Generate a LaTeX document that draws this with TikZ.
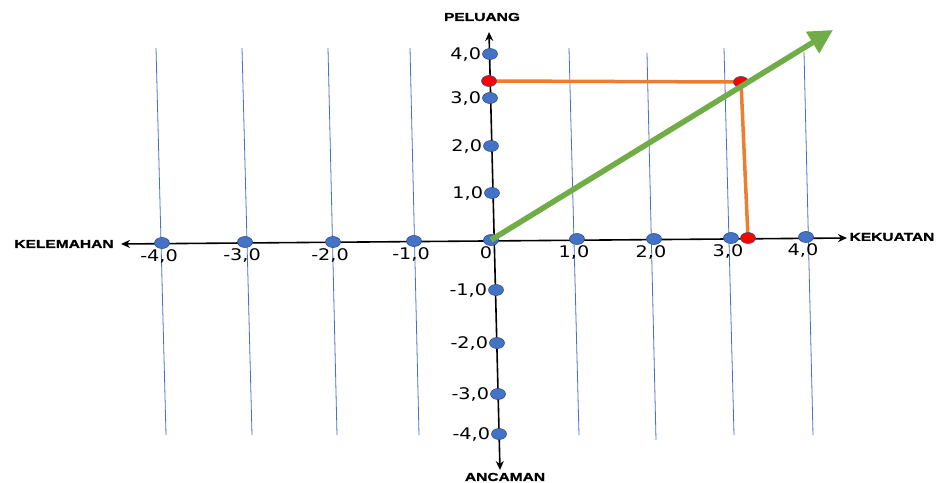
\documentclass[tikz,border=0pt]{standalone}
\usepackage{fontspec}
\usepackage{xcolor}
\usepackage{tikz}
\usetikzlibrary{shapes.geometric,arrows.meta,backgrounds}
\setmainfont{Liberation Sans}
\newfontfamily\tickfont[FakeStretch=1.2]{DejaVu Sans}
\newfontfamily\headfont[FakeStretch=1.35,BoldFeatures={FakeBold=1.2}]{Liberation Sans}
\definecolor{dotblue}{HTML}{4472C4}
\definecolor{dotedge}{HTML}{2F528F}
\definecolor{trace}{HTML}{ED7D31}
\definecolor{trend}{HTML}{70AD47}

\begin{document}
\begin{tikzpicture}[
    x=1pt,y=-1pt,
    dot/.style={ellipse,draw=dotedge,fill=dotblue,line width=0.6pt,minimum width=15pt,minimum height=11pt,inner sep=0pt},
    hit/.style={dot,fill=red},
    ticklab/.style={font=\tickfont\fontsize{16}{16}\selectfont,inner sep=1pt},
    xtick/.style={label={[ticklab,xshift=-3pt]below:#1}},
    ytick/.style={label={[ticklab]left:#1}},
    axislab/.style={font=\headfont\bfseries\fontsize{11.5}{11.5}\selectfont,inner sep=1pt},
    gridline/.style={draw=dotblue,line width=0.8pt},
    axisline/.style={{Stealth[length=9pt,width=8pt]}-{Stealth[length=9pt,width=8pt]},line width=1.6pt},
    orangeline/.style={draw=trace,line width=3.5pt},
    trendline/.style={-{Triangle[length=24pt,width=24pt]},draw=trend,line width=5.5pt}
  ]
    \useasboundingbox (0,0) rectangle (937,482);
    % points on the horizontal axis
    \node[dot,label distance=-1pt,xtick={-4,0}] (xm4) at (162,243) {};
    \node[dot,label distance=-1pt,xtick={-3,0}] (xm3) at (245,242) {};
    \node[dot,label distance=-1pt,xtick={-2,0}] (xm2) at (333,242) {};
    \node[dot,label distance=-1pt,xtick={-1,0}] (xm1) at (414,241) {};
    \node[dot,label distance=-1pt,label={[ticklab,xshift=-5pt]below:0}] (o) at (491,240) {};
    \node[dot,label distance=-1pt,xtick={1,0}] (x1) at (577,239) {};
    \node[dot,label distance=-1pt,xtick={2,0}] (x2) at (654,239) {};
    \node[dot,label distance=-3pt,xtick={3,0}] (x3) at (731,238) {};
    \node[dot,label distance=-5pt,xtick={4,0}] (x4) at (806,237) {};
    % points on the vertical axis
    \node[dot,label distance=-4pt,ytick={4,0}] (y4) at (490,54) {};
    \node[dot,label distance=-3pt,ytick={3,0}] (y3) at (490,98) {};
    \node[dot,label distance=-3pt,ytick={2,0}] (y2) at (491,146) {};
    \node[dot,label distance=-3pt,ytick={1,0}] (y1) at (492,193) {};
    \node[dot,label distance=-3pt,ytick={-1,0}] (ym1) at (496,290) {};
    \node[dot,label distance=-3pt,ytick={-2,0}] (ym2) at (497,343) {};
    \node[dot,label distance=-3pt,ytick={-3,0}] (ym3) at (498,394) {};
    \node[dot,label distance=-3pt,ytick={-4,0}] (ym4) at (499,434) {};
    % position
    \node[hit] (py) at (489,81) {};
    \node[hit] (pc) at (741,82) {};
    \node[hit] (px) at (748,238) {};
    % axis names
    \node[axislab] (kel) at (64,244) {KELEMAHAN};
    \node[axislab] (kek) at (892,237) {KEKUATAN};
    \node[axislab] (pel) at (482,17) {PELUANG};
    \node[axislab] (anc) at (505,477) {ANCAMAN};
    \coordinate (xl) at (121,244);
    \coordinate (xr) at (847,238);
    \coordinate (yt) at (489,32);
    \coordinate (yb) at (500,470);
    \coordinate (tip) at (833,30);
    \begin{pgfonlayer}{background}
      \draw[gridline] (156,48) -- (166,435);
      \draw[gridline] (242,48) -- (252,435);
      \draw[gridline] (328,48) -- (337,435);
      \draw[gridline] (410,48) -- (419,435);
      \draw[gridline] (569,48) -- (579,435);
      \draw[gridline] (647,53) -- (656,440);
      \draw[gridline] (724,48) -- (734,435);
      \draw[gridline] (804,52) -- (813,435);
      \draw[axisline] (xl) -- (xr);
      \draw[axisline] (yb) -- (yt);
      \draw[orangeline] (py.center) -- (pc.center) -- (px.center);
    \end{pgfonlayer}
    \draw[trendline] (o.center) -- (tip);
  \end{tikzpicture}
\end{document}
